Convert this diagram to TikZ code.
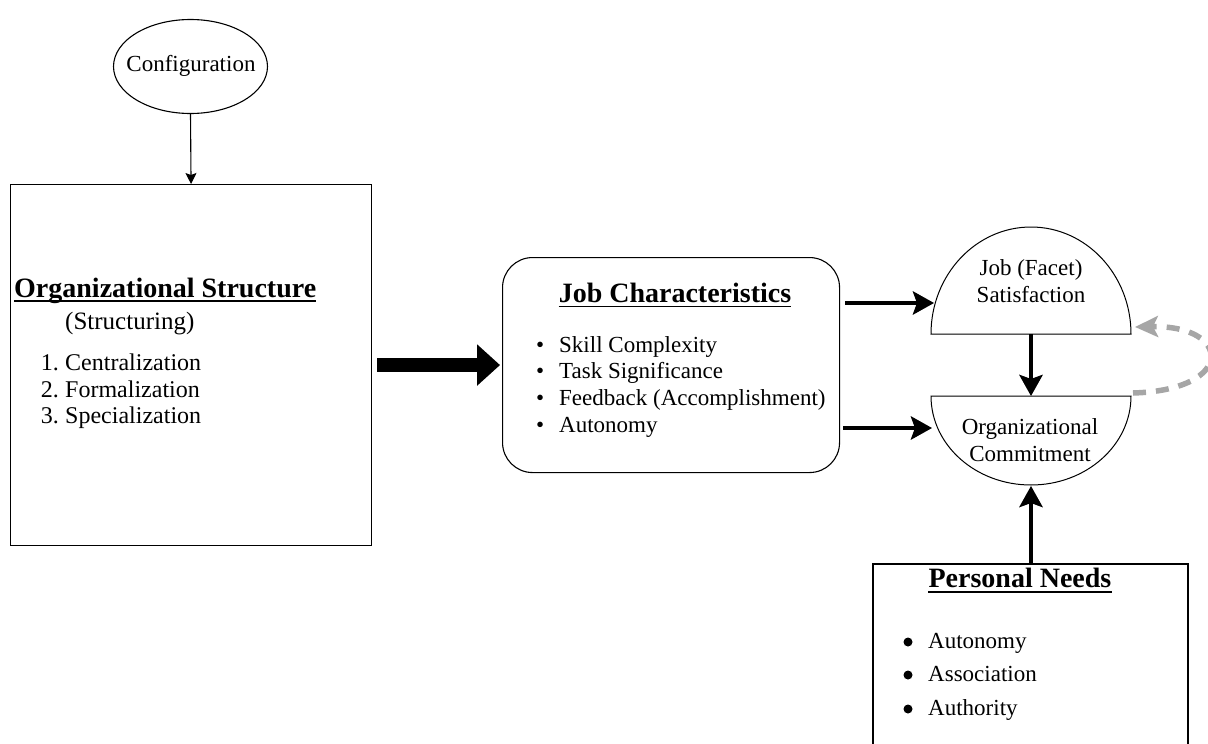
\documentclass[tikz,border=0pt]{standalone}
\usepackage{fontspec}
\setmainfont{Liberation Serif}
\usetikzlibrary{arrows.meta,shapes.geometric}
\newcommand{\fsz}[1]{\fontsize{#1}{#1}\selectfont}
\begin{document}
\begin{tikzpicture}[x=1pt,y=-1pt,
  boxline/.style={draw=black,line width=1.1pt},
  thinarrow/.style={line width=1.1pt,-{Stealth[length=11pt,width=11pt,inset=2pt]}},
  thkarrow/.style={line width=4.5pt,-{Stealth[length=21pt,width=23pt,inset=4pt]}},
  thkshadow/.style={thkarrow,draw=gray!45,shift={(2pt,-2.5pt)}},
  bigarrow/.style={line width=14pt,-{Triangle[length=23pt,width=40pt]}},
  dasharrow/.style={draw=gray!70,line width=5.5pt,dash pattern=on 13pt off 10pt,
    -{Stealth[length=23pt,width=21pt,inset=5pt]}},
  uline/.style={line width=1.8pt},
  body/.style={font=\fsz{23}},
  ttl/.style={font=\fsz{28}\bfseries}]
\useasboundingbox (0,0) rectangle (1208,744);
\clip (0,0) rectangle (1208,744);

% Configuration
\node[boxline,ellipse,minimum width=154pt,minimum height=94pt,inner sep=0pt] (cfg) at (190.5,66.5) {};
\node[body,anchor=base,inner sep=0pt] (cfgt) at (191,71) {Configuration};

% Organizational structure box
\node[boxline,minimum width=361pt,minimum height=361pt,anchor=north west,inner sep=0pt] (org) at (10,184) {};
\draw[thinarrow] (cfg.south) -- (org.north);
\node[ttl,anchor=base west,inner sep=0pt] (orgt) at (14,297) {Organizational Structure};
\draw[uline] ([yshift=-4pt]orgt.base west) -- ([yshift=-4pt]orgt.base east);
\node[font=\fsz{25},anchor=base west,inner sep=0pt] (orgs) at (65,329) {(Structuring)};
\foreach \n/\t/\yy in {1/Centralization/370,2/Formalization/397,3/Specialization/423}{
  \node[font=\fsz{24},anchor=base east,inner sep=0pt] (orgn\n) at (59,\yy) {\n.};
  \node[font=\fsz{24},anchor=base west,inner sep=0pt] (orgi\n) at (65,\yy) {\t};
}

% Job characteristics
\node[boxline,rounded corners=30pt,minimum width=337pt,minimum height=215pt,anchor=north west,inner sep=0pt] (jc) at (502,257) {};
\node[ttl,anchor=base,inner sep=0pt] (jct) at (675,302) {Job Characteristics};
\draw[uline] ([yshift=-4.5pt]jct.base west) -- ([yshift=-4.5pt]jct.base east);
\foreach \t/\yy [count=\i] in {Skill Complexity/352,Task Significance/378,Feedback (Accomplishment)/405,Autonomy/432}{
  \node[body,anchor=base west,inner sep=0pt] (jcb\i) at (536,\yy) {\textbullet};
  \node[body,anchor=base west,inner sep=0pt] (jci\i) at (559,\yy) {\t};
}

% big arrow
\draw[bigarrow,draw=gray!50,shift={(3pt,-3pt)}] ([xshift=5pt]org.east) -- ([xshift=-2pt]jc.west);
\draw[bigarrow] ([xshift=5pt]org.east) -- ([xshift=-2pt]jc.west);

% Job satisfaction (dome)
\draw[line width=1pt,fill=white] (931,334) arc[start angle=180,end angle=360,x radius=100,y radius=107] -- cycle;
\node[body,anchor=base,inner sep=0pt] (sat1) at (1031,275) {Job (Facet)};
\node[body,anchor=base,inner sep=0pt] (sat) at (1031,302) {Satisfaction};
\coordinate (satW) at (934,303);
\coordinate (satS) at (1031,334);
\coordinate (satE) at (1135,327);

% Organizational commitment (bowl)
\draw[line width=1pt,fill=white] (931,396) arc[start angle=180,end angle=0,x radius=100,y radius=89] -- cycle;
\node[body,anchor=base,inner sep=0pt] (com1) at (1030,434) {Organizational};
\node[body,anchor=base,inner sep=0pt] (com) at (1030,461) {Commitment};
\coordinate (comN) at (1031,396);
\coordinate (comW) at (932,428);
\coordinate (comS) at (1031,486);
\coordinate (comE) at (1133,393);

% Personal needs box
\draw[boxline] (873,760) |- (1188,564) coordinate (pnNE) -- (1188,760);
\coordinate (pnN) at (1031,564);
\node[ttl,anchor=base,inner sep=0pt] (pnt) at (1020,587) {Personal Needs};
\draw[uline] ([yshift=-5pt]pnt.base west) -- ([yshift=-5pt]pnt.base east);
\foreach \t/\yy [count=\i] in {Autonomy/648,Association/681,Authority/715}{
  \fill (908,\yy-6) circle (4.5pt);
  \node[body,anchor=base west,inner sep=0pt] (pni\i) at (928,\yy) {\t};
}

% thick arrows with shadows
\draw[thkshadow] (jc.east |- satW) ++(5,0) -- (satW);
\draw[thkarrow] (jc.east |- satW) ++(5,0) -- (satW);
\draw[thkshadow] (jc.east |- comW) ++(3,0) -- (comW);
\draw[thkarrow] (jc.east |- comW) ++(3,0) -- (comW);
\draw[thkshadow] (satS) -- (comN);
\draw[thkarrow] (satS) -- (comN);
\draw[thkshadow] (pnN) -- (comS);
\draw[thkarrow] (pnN) -- (comS);

% dashed feedback
\draw[dasharrow] (comE) .. controls (1236,390) and (1232,325) .. (satE);
\end{tikzpicture}
\end{document}
